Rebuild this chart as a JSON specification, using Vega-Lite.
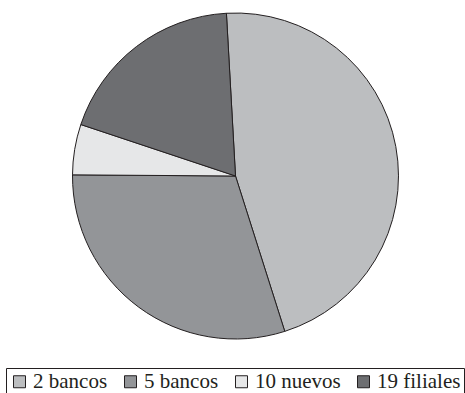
{
  "$schema": "https://vega.github.io/schema/vega-lite/v6.json",
  "width": 471,
  "height": 352,
  "padding": 0,
  "autosize": {"type": "pad"},
  "background": "white",
  "data": {
    "values": [
      {"grupo": "2 bancos", "valor": 46, "orden": 1},
      {"grupo": "5 bancos", "valor": 30, "orden": 2},
      {"grupo": "10 nuevos", "valor": 5, "orden": 3},
      {"grupo": "19 filiales", "valor": 19, "orden": 4}
    ]
  },
  "mark": {"type": "arc", "radius": 163, "stroke": "#231f20", "strokeWidth": 1},
  "encoding": {
    "theta": {
      "field": "valor",
      "type": "quantitative",
      "stack": true,
      "scale": {"range": [-0.0558, 6.2274]}
    },
    "order": {"field": "orden", "type": "quantitative"},
    "color": {
      "field": "grupo",
      "type": "nominal",
      "scale": {
        "domain": ["2 bancos", "5 bancos", "10 nuevos", "19 filiales"],
        "range": ["#bcbec0", "#939598", "#e6e7e8", "#6d6e71"]
      },
      "legend": {
        "title": null,
        "orient": "none",
        "legendX": 6,
        "legendY": 368,
        "direction": "horizontal",
        "strokeColor": "#231f20",
        "padding": 3,
        "symbolType": "square",
        "symbolSize": 144,
        "symbolStrokeColor": "#231f20",
        "symbolStrokeWidth": 1,
        "labelFont": "Times New Roman",
        "labelFontSize": 21,
        "labelColor": "#231f20",
        "labelOffset": 3,
        "columnPadding": 12
      }
    }
  }
}
